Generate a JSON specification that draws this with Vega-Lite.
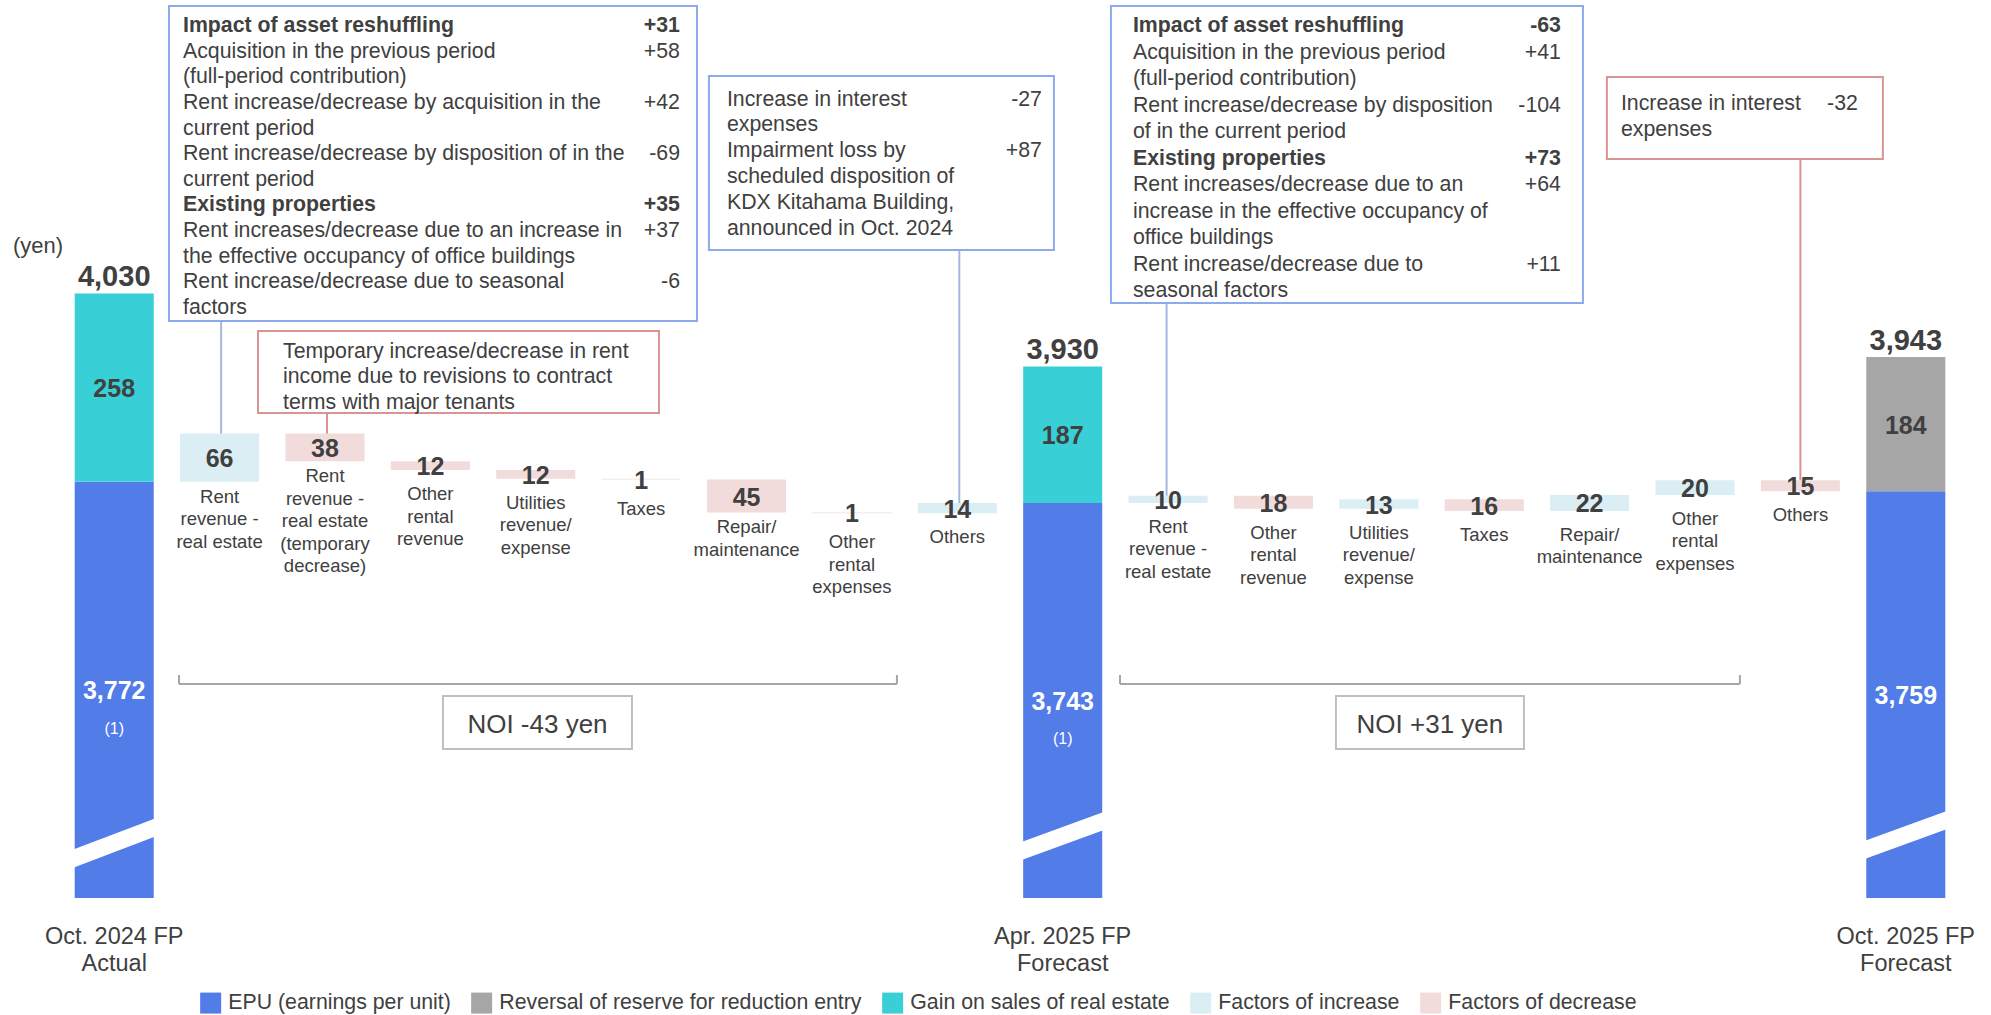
{
"$schema":"https://vega.github.io/schema/vega-lite/v6.json",
"width":1898,"height":898,"autosize":"none",
"padding":{"left":61,"top":0,"right":32,"bottom":117},
"config":{"font":"Liberation Sans","view":{"stroke":null}},
"datasets":{
"bars":[
{"step":1,"type":"EPU (earnings per unit)","start":0,"end":3772},
{"step":1,"type":"Gain on sales of real estate","start":3772,"end":4030,"amount":258},
{"step":2,"type":"Factors of increase","start":3772,"end":3838,"amount":66,"name":"Rent\nrevenue -\nreal estate"},
{"step":3,"type":"Factors of decrease","start":3838,"end":3800,"amount":38,"name":"Rent\nrevenue -\nreal estate\n(temporary\ndecrease)"},
{"step":4,"type":"Factors of decrease","start":3800,"end":3788,"amount":12,"name":"Other\nrental\nrevenue"},
{"step":5,"type":"Factors of decrease","start":3788,"end":3776,"amount":12,"name":"Utilities\nrevenue/\nexpense"},
{"step":6,"type":"Factors of decrease","start":3776,"end":3775,"amount":1,"name":"Taxes"},
{"step":7,"type":"Factors of decrease","start":3775,"end":3730,"amount":45,"name":"Repair/\nmaintenance"},
{"step":8,"type":"Factors of decrease","start":3730,"end":3729,"amount":1,"name":"Other\nrental\nexpenses"},
{"step":9,"type":"Factors of increase","start":3729,"end":3743,"amount":14,"name":"Others"},
{"step":10,"type":"EPU (earnings per unit)","start":0,"end":3743},
{"step":10,"type":"Gain on sales of real estate","start":3743,"end":3930,"amount":187},
{"step":11,"type":"Factors of increase","start":3743,"end":3753,"amount":10,"name":"Rent\nrevenue -\nreal estate"},
{"step":12,"type":"Factors of decrease","start":3753,"end":3735,"amount":18,"name":"Other\nrental\nrevenue"},
{"step":13,"type":"Factors of increase","start":3735,"end":3748,"amount":13,"name":"Utilities\nrevenue/\nexpense"},
{"step":14,"type":"Factors of decrease","start":3748,"end":3732,"amount":16,"name":"Taxes"},
{"step":15,"type":"Factors of increase","start":3732,"end":3754,"amount":22,"name":"Repair/\nmaintenance"},
{"step":16,"type":"Factors of increase","start":3754,"end":3774,"amount":20,"name":"Other\nrental\nexpenses"},
{"step":17,"type":"Factors of decrease","start":3774,"end":3759,"amount":15,"name":"Others"},
{"step":18,"type":"EPU (earnings per unit)","start":0,"end":3759},
{"step":18,"type":"Reversal of reserve for reduction entry","start":3759,"end":3943,"amount":184}
],
"totals":[
{"step":1,"total":4030,"epu":3772,"axis":"Oct. 2024 FP\nActual","note":"(1)"},
{"step":10,"total":3930,"epu":3743,"axis":"Apr. 2025 FP\nForecast","note":"(1)"},
{"step":18,"total":3943,"epu":3759,"axis":"Oct. 2025 FP\nForecast","note":""}
]
},
"layer":[
{"layer":[
{"data":{"name":"bars"},"mark":{"type":"bar","clip":true},
 "encoding":{
  "x":{"field":"step","type":"ordinal","scale":{"paddingInner":0.25,"paddingOuter":0.13},"axis":{"labels":false,"ticks":false,"domain":true,"domainColor":"#D9D9D9","domainWidth":2.5,"title":null,"grid":false}},
  "y":{"field":"end","type":"quantitative","stack":null,"scale":{"domain":[3202,4431.8],"zero":false,"nice":false},"axis":null},
  "y2":{"field":"start"},
  "color":{"field":"type","type":"nominal",
   "scale":{"domain":["EPU (earnings per unit)","Reversal of reserve for reduction entry","Gain on sales of real estate","Factors of increase","Factors of decrease"],"range":["#527CE8","#A6A6A6","#38CFD6","#DAEEF3","#F2DCDB"]},
   "legend":{"orient":"none","legendX":139,"legendY":992,"direction":"horizontal","columns":5,"title":null,"symbolType":"square","symbolSize":441,"symbolStrokeWidth":0,"labelFontSize":21.3,"labelColor":"#404040","labelOffset":7,"columnPadding":20,"padding":0,"labelLimit":600}}
 }},
{"data":{"values":[{}]},"mark":{"type":"rule","color":"white","strokeWidth":17,"strokeCap":"butt","xOffset":-49.2,"x2Offset":49.8},
 "encoding":{"x":{"datum":1,"type":"ordinal","axis":null},"x2":{"datum":1},"y":{"datum":3251.6,"type":"quantitative","scale":{"domain":[3202,4431.8],"zero":false,"nice":false},"axis":null},"y2":{"datum":3303.1}}},
{"data":{"values":[{}]},"mark":{"type":"rule","color":"white","strokeWidth":17,"strokeCap":"butt","xOffset":-48.7,"x2Offset":49.3},
 "encoding":{"x":{"datum":10,"type":"ordinal","axis":null},"x2":{"datum":10},"y":{"datum":3262.7,"type":"quantitative","scale":{"domain":[3202,4431.8],"zero":false,"nice":false},"axis":null},"y2":{"datum":3311.7}}},
{"data":{"values":[{}]},"mark":{"type":"rule","color":"white","strokeWidth":17,"strokeCap":"butt","xOffset":-48.9,"x2Offset":50.1},
 "encoding":{"x":{"datum":18,"type":"ordinal","axis":null},"x2":{"datum":18},"y":{"datum":3263.9,"type":"quantitative","scale":{"domain":[3202,4431.8],"zero":false,"nice":false},"axis":null},"y2":{"datum":3313.2}}},
{"data":{"values":[{}]},"mark":{"type":"rule","color":"#A3B8E0","strokeWidth":2,"xOffset":1.5},
 "encoding":{"x":{"datum":2,"type":"ordinal","axis":null},"y":{"datum":3992.2,"type":"quantitative","scale":{"domain":[3202,4431.8],"zero":false,"nice":false},"axis":null},"y2":{"datum":3838}}},
{"data":{"values":[{}]},"mark":{"type":"rule","color":"#D99594","strokeWidth":2,"xOffset":2},
 "encoding":{"x":{"datum":3,"type":"ordinal","axis":null},"y":{"datum":3866.2,"type":"quantitative","scale":{"domain":[3202,4431.8],"zero":false,"nice":false},"axis":null},"y2":{"datum":3838}}},
{"data":{"values":[{}]},"mark":{"type":"rule","color":"#A3B8E0","strokeWidth":2,"xOffset":2},
 "encoding":{"x":{"datum":9,"type":"ordinal","axis":null},"y":{"datum":4089.4,"type":"quantitative","scale":{"domain":[3202,4431.8],"zero":false,"nice":false},"axis":null},"y2":{"datum":3743}}},
{"data":{"values":[{}]},"mark":{"type":"rule","color":"#A3B8E0","strokeWidth":2,"xOffset":-1.5},
 "encoding":{"x":{"datum":11,"type":"ordinal","axis":null},"y":{"datum":4016.8,"type":"quantitative","scale":{"domain":[3202,4431.8],"zero":false,"nice":false},"axis":null},"y2":{"datum":3753}}},
{"data":{"values":[{}]},"mark":{"type":"rule","color":"#D99594","strokeWidth":2,"xOffset":0},
 "encoding":{"x":{"datum":17,"type":"ordinal","axis":null},"y":{"datum":4214.1,"type":"quantitative","scale":{"domain":[3202,4431.8],"zero":false,"nice":false},"axis":null},"y2":{"datum":3774}}},
{"data":{"values":[{}]},"mark":{"type":"bar","width":528,"xOffset":2.6,"fill":"white","stroke":"#8EAAEE","strokeWidth":2},
 "encoding":{"x":{"datum":4,"type":"ordinal","axis":null},"y":{"datum":4423.6,"type":"quantitative","scale":{"domain":[3202,4431.8],"zero":false,"nice":false},"axis":null},"y2":{"datum":3992.2}}},
{"data":{"values":[{}]},"mark":{"type":"bar","width":401,"xOffset":28.1,"fill":"white","stroke":"#D99594","strokeWidth":2},
 "encoding":{"x":{"datum":4,"type":"ordinal","axis":null},"y":{"datum":3978.5,"type":"quantitative","scale":{"domain":[3202,4431.8],"zero":false,"nice":false},"axis":null},"y2":{"datum":3866.2}}},
{"data":{"values":[{}]},"mark":{"type":"bar","width":345,"xOffset":29.5,"fill":"white","stroke":"#8EAAEE","strokeWidth":2},
 "encoding":{"x":{"datum":8,"type":"ordinal","axis":null},"y":{"datum":4327.7,"type":"quantitative","scale":{"domain":[3202,4431.8],"zero":false,"nice":false},"axis":null},"y2":{"datum":4089.4}}},
{"data":{"values":[{}]},"mark":{"type":"bar","width":472,"xOffset":-31.9,"fill":"white","stroke":"#8EAAEE","strokeWidth":2},
 "encoding":{"x":{"datum":13,"type":"ordinal","axis":null},"y":{"datum":4423.6,"type":"quantitative","scale":{"domain":[3202,4431.8],"zero":false,"nice":false},"axis":null},"y2":{"datum":4016.8}}},
{"data":{"values":[{}]},"mark":{"type":"bar","width":276,"xOffset":-55.5,"fill":"white","stroke":"#D99594","strokeWidth":2},
 "encoding":{"x":{"datum":17,"type":"ordinal","axis":null},"y":{"datum":4326.4,"type":"quantitative","scale":{"domain":[3202,4431.8],"zero":false,"nice":false},"axis":null},"y2":{"datum":4214.1}}},

{"data":{"values":[{}]},"mark":{"type":"text","align":"left","baseline":"alphabetic","fontSize":21.3,"fontWeight":"bold","fill":"#404040","xOffset":-247.4,"dy":0,"text":"Impact of asset reshuffling"},
 "encoding":{"x":{"datum":4,"type":"ordinal","axis":null},"y":{"datum":4387.6,"type":"quantitative","scale":{"domain":[3202,4431.8],"zero":false,"nice":false},"axis":null}}},
{"data":{"values":[{}]},"mark":{"type":"text","align":"left","baseline":"alphabetic","fontSize":21.3,"lineHeight":25.6,"fill":"#404040","xOffset":-247.4,"dy":25.6,
  "text":["Acquisition in the previous period","(full-period contribution)","Rent increase/decrease by acquisition in the","current period","Rent increase/decrease by disposition of in the","current period"]},
 "encoding":{"x":{"datum":4,"type":"ordinal","axis":null},"y":{"datum":4387.6,"type":"quantitative","scale":{"domain":[3202,4431.8],"zero":false,"nice":false},"axis":null}}},
{"data":{"values":[{}]},"mark":{"type":"text","align":"left","baseline":"alphabetic","fontSize":21.3,"fontWeight":"bold","fill":"#404040","xOffset":-247.4,"dy":179.2,"text":"Existing properties"},
 "encoding":{"x":{"datum":4,"type":"ordinal","axis":null},"y":{"datum":4387.6,"type":"quantitative","scale":{"domain":[3202,4431.8],"zero":false,"nice":false},"axis":null}}},
{"data":{"values":[{}]},"mark":{"type":"text","align":"left","baseline":"alphabetic","fontSize":21.3,"lineHeight":25.6,"fill":"#404040","xOffset":-247.4,"dy":204.8,
  "text":["Rent increases/decrease due to an increase in","the effective occupancy of office buildings","Rent increase/decrease due to seasonal","factors"]},
 "encoding":{"x":{"datum":4,"type":"ordinal","axis":null},"y":{"datum":4387.6,"type":"quantitative","scale":{"domain":[3202,4431.8],"zero":false,"nice":false},"axis":null}}},
{"data":{"values":[{}]},"mark":{"type":"text","align":"right","baseline":"alphabetic","fontSize":21.3,"fontWeight":"bold","fill":"#404040","xOffset":249.6,"dy":0,"text":"+31"},
 "encoding":{"x":{"datum":4,"type":"ordinal","axis":null},"y":{"datum":4387.6,"type":"quantitative","scale":{"domain":[3202,4431.8],"zero":false,"nice":false},"axis":null}}},
{"data":{"values":[{}]},"mark":{"type":"text","align":"right","baseline":"alphabetic","fontSize":21.3,"fill":"#404040","xOffset":249.6,"dy":25.6,"text":"+58"},
 "encoding":{"x":{"datum":4,"type":"ordinal","axis":null},"y":{"datum":4387.6,"type":"quantitative","scale":{"domain":[3202,4431.8],"zero":false,"nice":false},"axis":null}}},
{"data":{"values":[{}]},"mark":{"type":"text","align":"right","baseline":"alphabetic","fontSize":21.3,"fill":"#404040","xOffset":249.6,"dy":76.8,"text":"+42"},
 "encoding":{"x":{"datum":4,"type":"ordinal","axis":null},"y":{"datum":4387.6,"type":"quantitative","scale":{"domain":[3202,4431.8],"zero":false,"nice":false},"axis":null}}},
{"data":{"values":[{}]},"mark":{"type":"text","align":"right","baseline":"alphabetic","fontSize":21.3,"fill":"#404040","xOffset":249.6,"dy":128,"text":"-69"},
 "encoding":{"x":{"datum":4,"type":"ordinal","axis":null},"y":{"datum":4387.6,"type":"quantitative","scale":{"domain":[3202,4431.8],"zero":false,"nice":false},"axis":null}}},
{"data":{"values":[{}]},"mark":{"type":"text","align":"right","baseline":"alphabetic","fontSize":21.3,"fontWeight":"bold","fill":"#404040","xOffset":249.6,"dy":179.2,"text":"+35"},
 "encoding":{"x":{"datum":4,"type":"ordinal","axis":null},"y":{"datum":4387.6,"type":"quantitative","scale":{"domain":[3202,4431.8],"zero":false,"nice":false},"axis":null}}},
{"data":{"values":[{}]},"mark":{"type":"text","align":"right","baseline":"alphabetic","fontSize":21.3,"fill":"#404040","xOffset":249.6,"dy":204.8,"text":"+37"},
 "encoding":{"x":{"datum":4,"type":"ordinal","axis":null},"y":{"datum":4387.6,"type":"quantitative","scale":{"domain":[3202,4431.8],"zero":false,"nice":false},"axis":null}}},
{"data":{"values":[{}]},"mark":{"type":"text","align":"right","baseline":"alphabetic","fontSize":21.3,"fill":"#404040","xOffset":249.6,"dy":256,"text":"-6"},
 "encoding":{"x":{"datum":4,"type":"ordinal","axis":null},"y":{"datum":4387.6,"type":"quantitative","scale":{"domain":[3202,4431.8],"zero":false,"nice":false},"axis":null}}},

{"data":{"values":[{}]},"mark":{"type":"text","align":"left","baseline":"alphabetic","fontSize":21.3,"lineHeight":25.6,"fill":"#404040","xOffset":-147.4,
  "text":["Temporary increase/decrease in rent","income due to revisions to contract","terms with major tenants"]},
 "encoding":{"x":{"datum":4,"type":"ordinal","axis":null},"y":{"datum":3941.9,"type":"quantitative","scale":{"domain":[3202,4431.8],"zero":false,"nice":false},"axis":null}}},

{"data":{"values":[{}]},"mark":{"type":"text","align":"left","baseline":"alphabetic","fontSize":21.3,"lineHeight":25.8,"fill":"#404040","xOffset":-125,
  "text":["Increase in interest","expenses","Impairment loss by","scheduled disposition of","KDX Kitahama Building,","announced in Oct. 2024"]},
 "encoding":{"x":{"datum":8,"type":"ordinal","axis":null},"y":{"datum":4287.3,"type":"quantitative","scale":{"domain":[3202,4431.8],"zero":false,"nice":false},"axis":null}}},
{"data":{"values":[{}]},"mark":{"type":"text","align":"right","baseline":"alphabetic","fontSize":21.3,"fill":"#404040","xOffset":190,"dy":0,"text":"-27"},
 "encoding":{"x":{"datum":8,"type":"ordinal","axis":null},"y":{"datum":4287.3,"type":"quantitative","scale":{"domain":[3202,4431.8],"zero":false,"nice":false},"axis":null}}},
{"data":{"values":[{}]},"mark":{"type":"text","align":"right","baseline":"alphabetic","fontSize":21.3,"fill":"#404040","xOffset":190,"dy":51.6,"text":"+87"},
 "encoding":{"x":{"datum":8,"type":"ordinal","axis":null},"y":{"datum":4287.3,"type":"quantitative","scale":{"domain":[3202,4431.8],"zero":false,"nice":false},"axis":null}}},

{"data":{"values":[{}]},"mark":{"type":"text","align":"left","baseline":"alphabetic","fontSize":21.3,"fontWeight":"bold","fill":"#404040","xOffset":-245.9,"dy":0,"text":"Impact of asset reshuffling"},
 "encoding":{"x":{"datum":13,"type":"ordinal","axis":null},"y":{"datum":4387.3,"type":"quantitative","scale":{"domain":[3202,4431.8],"zero":false,"nice":false},"axis":null}}},
{"data":{"values":[{}]},"mark":{"type":"text","align":"left","baseline":"alphabetic","fontSize":21.3,"lineHeight":26.5,"fill":"#404040","xOffset":-245.9,"dy":26.5,
  "text":["Acquisition in the previous period","(full-period contribution)","Rent increase/decrease by disposition","of in the current period"]},
 "encoding":{"x":{"datum":13,"type":"ordinal","axis":null},"y":{"datum":4387.3,"type":"quantitative","scale":{"domain":[3202,4431.8],"zero":false,"nice":false},"axis":null}}},
{"data":{"values":[{}]},"mark":{"type":"text","align":"left","baseline":"alphabetic","fontSize":21.3,"fontWeight":"bold","fill":"#404040","xOffset":-245.9,"dy":132.5,"text":"Existing properties"},
 "encoding":{"x":{"datum":13,"type":"ordinal","axis":null},"y":{"datum":4387.3,"type":"quantitative","scale":{"domain":[3202,4431.8],"zero":false,"nice":false},"axis":null}}},
{"data":{"values":[{}]},"mark":{"type":"text","align":"left","baseline":"alphabetic","fontSize":21.3,"lineHeight":26.5,"fill":"#404040","xOffset":-245.9,"dy":159,
  "text":["Rent increases/decrease due to an","increase in the effective occupancy of","office buildings","Rent increase/decrease due to","seasonal factors"]},
 "encoding":{"x":{"datum":13,"type":"ordinal","axis":null},"y":{"datum":4387.3,"type":"quantitative","scale":{"domain":[3202,4431.8],"zero":false,"nice":false},"axis":null}}},
{"data":{"values":[{}]},"mark":{"type":"text","align":"right","baseline":"alphabetic","fontSize":21.3,"fontWeight":"bold","fill":"#404040","xOffset":182.1,"dy":0,"text":"-63"},
 "encoding":{"x":{"datum":13,"type":"ordinal","axis":null},"y":{"datum":4387.3,"type":"quantitative","scale":{"domain":[3202,4431.8],"zero":false,"nice":false},"axis":null}}},
{"data":{"values":[{}]},"mark":{"type":"text","align":"right","baseline":"alphabetic","fontSize":21.3,"fill":"#404040","xOffset":182.1,"dy":26.5,"text":"+41"},
 "encoding":{"x":{"datum":13,"type":"ordinal","axis":null},"y":{"datum":4387.3,"type":"quantitative","scale":{"domain":[3202,4431.8],"zero":false,"nice":false},"axis":null}}},
{"data":{"values":[{}]},"mark":{"type":"text","align":"right","baseline":"alphabetic","fontSize":21.3,"fill":"#404040","xOffset":182.1,"dy":79.5,"text":"-104"},
 "encoding":{"x":{"datum":13,"type":"ordinal","axis":null},"y":{"datum":4387.3,"type":"quantitative","scale":{"domain":[3202,4431.8],"zero":false,"nice":false},"axis":null}}},
{"data":{"values":[{}]},"mark":{"type":"text","align":"right","baseline":"alphabetic","fontSize":21.3,"fontWeight":"bold","fill":"#404040","xOffset":182.1,"dy":132.5,"text":"+73"},
 "encoding":{"x":{"datum":13,"type":"ordinal","axis":null},"y":{"datum":4387.3,"type":"quantitative","scale":{"domain":[3202,4431.8],"zero":false,"nice":false},"axis":null}}},
{"data":{"values":[{}]},"mark":{"type":"text","align":"right","baseline":"alphabetic","fontSize":21.3,"fill":"#404040","xOffset":182.1,"dy":159,"text":"+64"},
 "encoding":{"x":{"datum":13,"type":"ordinal","axis":null},"y":{"datum":4387.3,"type":"quantitative","scale":{"domain":[3202,4431.8],"zero":false,"nice":false},"axis":null}}},
{"data":{"values":[{}]},"mark":{"type":"text","align":"right","baseline":"alphabetic","fontSize":21.3,"fill":"#404040","xOffset":182.1,"dy":238.5,"text":"+11"},
 "encoding":{"x":{"datum":13,"type":"ordinal","axis":null},"y":{"datum":4387.3,"type":"quantitative","scale":{"domain":[3202,4431.8],"zero":false,"nice":false},"axis":null}}},

{"data":{"values":[{}]},"mark":{"type":"text","align":"left","baseline":"alphabetic","fontSize":21.3,"lineHeight":26,"fill":"#404040","xOffset":-179.5,
  "text":["Increase in interest","expenses"]},
 "encoding":{"x":{"datum":17,"type":"ordinal","axis":null},"y":{"datum":4281.8,"type":"quantitative","scale":{"domain":[3202,4431.8],"zero":false,"nice":false},"axis":null}}},
{"data":{"values":[{}]},"mark":{"type":"text","align":"right","baseline":"alphabetic","fontSize":21.3,"fill":"#404040","xOffset":57.5,"text":"-32"},
 "encoding":{"x":{"datum":17,"type":"ordinal","axis":null},"y":{"datum":4281.8,"type":"quantitative","scale":{"domain":[3202,4431.8],"zero":false,"nice":false},"axis":null}}},

{"data":{"values":[{}]},"mark":{"type":"rule","color":"#A6A6A6","strokeWidth":2,"xOffset":-40.6,"x2Offset":45},
 "encoding":{"x":{"datum":2,"type":"ordinal","axis":null},"x2":{"datum":8},"y":{"datum":3495.1,"type":"quantitative","scale":{"domain":[3202,4431.8],"zero":false,"nice":false},"axis":null}}},
{"data":{"values":[{}]},"mark":{"type":"rule","color":"#A6A6A6","strokeWidth":2,"xOffset":-40.6},
 "encoding":{"x":{"datum":2,"type":"ordinal","axis":null},"y":{"datum":3495.1,"type":"quantitative","scale":{"domain":[3202,4431.8],"zero":false,"nice":false},"axis":null},"y2":{"datum":3507.4}}},
{"data":{"values":[{}]},"mark":{"type":"rule","color":"#A6A6A6","strokeWidth":2,"xOffset":45},
 "encoding":{"x":{"datum":8,"type":"ordinal","axis":null},"y":{"datum":3495.1,"type":"quantitative","scale":{"domain":[3202,4431.8],"zero":false,"nice":false},"axis":null},"y2":{"datum":3507.4}}},
{"data":{"values":[{}]},"mark":{"type":"rule","color":"#A6A6A6","strokeWidth":2,"xOffset":-48.1,"x2Offset":44.9},
 "encoding":{"x":{"datum":11,"type":"ordinal","axis":null},"x2":{"datum":16},"y":{"datum":3495.1,"type":"quantitative","scale":{"domain":[3202,4431.8],"zero":false,"nice":false},"axis":null}}},
{"data":{"values":[{}]},"mark":{"type":"rule","color":"#A6A6A6","strokeWidth":2,"xOffset":-48.1},
 "encoding":{"x":{"datum":11,"type":"ordinal","axis":null},"y":{"datum":3495.1,"type":"quantitative","scale":{"domain":[3202,4431.8],"zero":false,"nice":false},"axis":null},"y2":{"datum":3507.4}}},
{"data":{"values":[{}]},"mark":{"type":"rule","color":"#A6A6A6","strokeWidth":2,"xOffset":44.9},
 "encoding":{"x":{"datum":16,"type":"ordinal","axis":null},"y":{"datum":3495.1,"type":"quantitative","scale":{"domain":[3202,4431.8],"zero":false,"nice":false},"axis":null},"y2":{"datum":3507.4}}},
{"data":{"values":[{}]},"mark":{"type":"bar","width":189,"xOffset":1.7,"fill":"white","stroke":"#BFBFBF","strokeWidth":2},
 "encoding":{"x":{"datum":5,"type":"ordinal","axis":null},"y":{"datum":3478.6,"type":"quantitative","scale":{"domain":[3202,4431.8],"zero":false,"nice":false},"axis":null},"y2":{"datum":3406.1}}},
{"data":{"values":[{}]},"mark":{"type":"bar","width":188,"xOffset":-54.3,"fill":"white","stroke":"#BFBFBF","strokeWidth":2},
 "encoding":{"x":{"datum":14,"type":"ordinal","axis":null},"y":{"datum":3478.6,"type":"quantitative","scale":{"domain":[3202,4431.8],"zero":false,"nice":false},"axis":null},"y2":{"datum":3406.1}}},
{"data":{"values":[{}]},"mark":{"type":"text","fontSize":26,"fill":"#404040","baseline":"middle","dy":-0.5,"xOffset":1.7,"text":"NOI -43 yen"},
 "encoding":{"x":{"datum":5,"type":"ordinal","axis":null},"y":{"datum":3437.6,"type":"quantitative","scale":{"domain":[3202,4431.8],"zero":false,"nice":false},"axis":null}}},
{"data":{"values":[{}]},"mark":{"type":"text","fontSize":26,"fill":"#404040","baseline":"middle","dy":-0.5,"xOffset":-54.3,"text":"NOI +31 yen"},
 "encoding":{"x":{"datum":14,"type":"ordinal","axis":null},"y":{"datum":3437.6,"type":"quantitative","scale":{"domain":[3202,4431.8],"zero":false,"nice":false},"axis":null}}},
{"data":{"values":[{}]},"mark":{"type":"text","fontSize":22,"fill":"#404040","align":"left","baseline":"middle","dy":-1.5,"xOffset":-101.2,"text":"(yen)"},
 "encoding":{"x":{"datum":1,"type":"ordinal","axis":null},"y":{"datum":4093.5,"type":"quantitative","scale":{"domain":[3202,4431.8],"zero":false,"nice":false},"axis":null}}},
{"data":{"name":"bars"},
 "transform":[{"filter":{"not":{"field":"type","equal":"EPU (earnings per unit)"}}},{"fold":["start","end"],"as":["k","v"]}],
 "mark":{"type":"text","fontSize":25,"fontWeight":"bold","fill":"#404040","baseline":"middle","dy":1.5},
 "encoding":{"x":{"field":"step","type":"ordinal","axis":null},"y":{"aggregate":"mean","field":"v","type":"quantitative","scale":{"domain":[3202,4431.8],"zero":false,"nice":false},"axis":null},"text":{"field":"amount","type":"quantitative"}}},
{"data":{"name":"bars"},
 "transform":[{"filter":{"field":"type","oneOf":["Factors of increase","Factors of decrease"]}},{"filter":{"field":"amount","gte":30}},{"fold":["start","end"],"as":["k","v"]}],
 "mark":{"type":"text","fontSize":18.5,"lineHeight":22.5,"lineBreak":"\n","fill":"#404040","baseline":"top","dy":6},
 "encoding":{"x":{"field":"step","type":"ordinal","axis":null},"y":{"aggregate":"min","field":"v","type":"quantitative","scale":{"domain":[3202,4431.8],"zero":false,"nice":false},"axis":null},"text":{"field":"name","type":"nominal"}}},
{"data":{"name":"bars"},
 "transform":[{"filter":{"field":"type","oneOf":["Factors of increase","Factors of decrease"]}},{"filter":{"field":"amount","range":[2,29]}},{"fold":["start","end"],"as":["k","v"]}],
 "mark":{"type":"text","fontSize":18.5,"lineHeight":22.5,"lineBreak":"\n","fill":"#404040","baseline":"top","dy":15},
 "encoding":{"x":{"field":"step","type":"ordinal","axis":null},"y":{"aggregate":"min","field":"v","type":"quantitative","scale":{"domain":[3202,4431.8],"zero":false,"nice":false},"axis":null},"text":{"field":"name","type":"nominal"}}},
{"data":{"name":"bars"},
 "transform":[{"filter":{"field":"type","oneOf":["Factors of increase","Factors of decrease"]}},{"filter":{"field":"amount","lte":1}},{"fold":["start","end"],"as":["k","v"]}],
 "mark":{"type":"text","fontSize":18.5,"lineHeight":22.5,"lineBreak":"\n","fill":"#404040","baseline":"top","dy":20},
 "encoding":{"x":{"field":"step","type":"ordinal","axis":null},"y":{"aggregate":"min","field":"v","type":"quantitative","scale":{"domain":[3202,4431.8],"zero":false,"nice":false},"axis":null},"text":{"field":"name","type":"nominal"}}},
{"data":{"name":"totals"},
 "mark":{"type":"text","fontSize":29,"fontWeight":"bold","fill":"#404040","baseline":"alphabetic","dy":-7},
 "encoding":{"x":{"field":"step","type":"ordinal","axis":null},"y":{"field":"total","type":"quantitative","scale":{"domain":[3202,4431.8],"zero":false,"nice":false},"axis":null},"text":{"field":"total","type":"quantitative","format":","}}},
{"data":{"name":"totals"},
 "mark":{"type":"text","fontSize":23.5,"lineHeight":27,"lineBreak":"\n","fill":"#404040","baseline":"alphabetic","dy":46},
 "encoding":{"x":{"field":"step","type":"ordinal","axis":null},"y":{"datum":3202,"type":"quantitative","scale":{"domain":[3202,4431.8],"zero":false,"nice":false},"axis":null},"text":{"field":"axis","type":"nominal"}}}
]},
{"data":{"name":"totals"},
 "encoding":{"x":{"field":"step","type":"ordinal","axis":null},"y":{"field":"epu","type":"quantitative","scale":{"domain":[3202,5661.6],"zero":false,"nice":false},"axis":null}},
 "layer":[
  {"mark":{"type":"text","fontWeight":"bold","fontSize":25,"fill":"white","baseline":"middle","dy":1.5},"encoding":{"text":{"field":"epu","type":"quantitative","format":","}}},
  {"mark":{"type":"text","fontSize":16,"fill":"white","baseline":"middle","dy":39},"encoding":{"text":{"field":"note","type":"nominal"}}}
 ]}
],
"resolve":{"scale":{"y":"independent"}}
}
